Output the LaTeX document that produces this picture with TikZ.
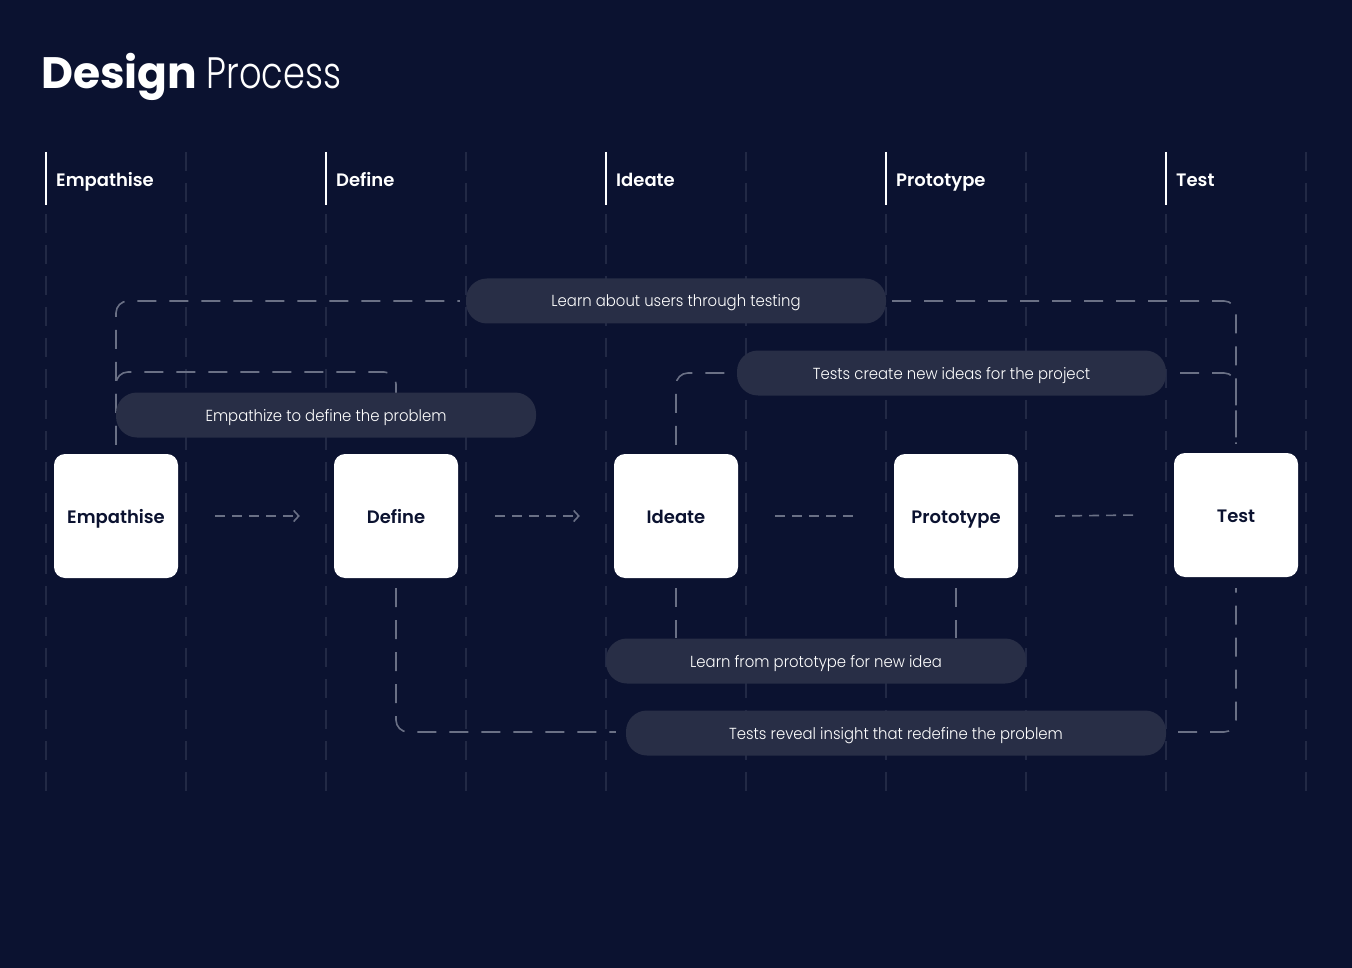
\documentclass[tikz,border=0pt]{standalone}
\usepackage{fontspec}
\setmainfont{Poppins}[BoldFont={Poppins SemiBold}]
\newfontfamily\lightfont{Poppins Light}
\newfontfamily\boldfont{Poppins Bold}
\usetikzlibrary{calc,arrows.meta}
\definecolor{bg}{HTML}{0B1230}
\definecolor{pill}{HTML}{282E46}
\definecolor{flowc}{HTML}{6A7085}
\definecolor{gridc}{HTML}{222945}
\definecolor{navy}{HTML}{0B1230}
\newcommand{\pilltext}[1]{\scalebox{0.93}[1]{#1}}
\tikzset{
  x=1pt,y=-1pt,
  stage/.style={fill=white,rounded corners=11pt,minimum width=124pt,minimum height=124pt,inner sep=0pt,text height=15pt,text depth=1pt,text=navy,font=\fontsize{18}{20}\selectfont\bfseries},
  pillbox/.style={fill=pill,rounded corners=21pt,minimum height=45pt,inner sep=0pt,text height=14pt,text depth=2pt,text=white,font=\lightfont\fontsize{16}{20}\selectfont},
  flow/.style={draw=flowc,line width=1.6pt,dash pattern=on 19pt off 13pt,rounded corners=12pt},
  flowarrow/.style={draw=flowc,line width=1.6pt,dash pattern=on 10pt off 7pt},
  gridline/.style={draw=gridc,line width=1.5pt,dash pattern=on 19pt off 12pt},
  headbar/.style={draw=white,line width=2.5pt},
  headlabel/.style={anchor=base west,text=white,inner sep=0pt,font=\fontsize{18}{20}\selectfont\bfseries},
}
\begin{document}
\begin{tikzpicture}
\fill[bg] (0,0) rectangle (1352,968);
\useasboundingbox (0,0) rectangle (1352,968);
% title
\node[anchor=base west,inner sep=0pt,text=white] (title) at (41,89) {\boldfont\fontsize{44}{50}\selectfont Design\ \lightfont\scalebox{0.8}[1]{Process}};
% grid
\foreach \i in {0,...,9} {
  \draw[gridline] (46+140*\i,152) -- (46+140*\i,796);
}
% headers
\foreach \x/\t/\n in {46/Empathise/h1,326/Define/h2,606/Ideate/h3,886/Prototype/h4,1166/Test/h5} {
  \draw[headbar] (\x,152) -- (\x,205);
  \node[headlabel] (\n) at (\x+10,187) {\t};
}
% stages
\node[stage] (emp) at (116,516) {Empathise};
\node[stage] (def) at (396,516) {Define};
\node[stage] (ide) at (676,516) {Ideate};
\node[stage] (pro) at (956,516) {Prototype};
\node[stage] (tst) at (1236,515) {Test};
% pills (positions)
\node[pillbox,minimum width=420pt] (p1) at (676,301) {\pilltext{Learn about users through testing}};
\coordinate (c2) at (256,372);
% loops
\draw[flow] ($(emp.north)+(0,-9)$) |- ($(p1.west)+(-6,0)$);
\draw[flow] ($(p1.east)+(6,0)$) -| ($(tst.north)+(0,-9)$);
\draw[flow] ($(emp.north)+(0,-9)$) |- (c2) -| ($(def.north)+(0,-9)$);
\node[pillbox,minimum width=420pt] (p2) at (326,415) {\pilltext{Empathize to define the problem}};
\node[pillbox,minimum width=429pt] (p3) at (951.5,373) {\pilltext{Tests create new ideas for the project}};
\draw[flow] ($(ide.north)+(0,-9)$) |- ($(p3.west)+(-6,0)$);
\draw[flow] ($(p3.east)+(14,0)$) -| ($(tst.north)+(0,-9)$);
\node[pillbox,minimum width=420pt] (p4) at (816,661) {\pilltext{Learn from prototype for new idea}};
\draw[flow] ($(ide.south)+(0,10)$) -- (ide.south |- p4.north);
\draw[flow] ($(pro.south)+(0,10)$) -- (pro.south |- p4.north);
\node[pillbox,minimum width=540pt] (p5) at (896,733) {\pilltext{Tests reveal insight that redefine the problem}};
\draw[flow] ($(def.south)+(0,10)$) |- ($(p5.west)+(-10,-1)$);
\draw[flow] ($(p5.east)+(12,-1)$) -| ($(tst.south)+(0,11)$);
% arrows
\draw[flowarrow,-{Straight Barb[length=5pt,width=11pt,line width=1.6pt]}] ($(emp.east)+(37,0)$) -- ($(def.west)+(-34,0)$);
\draw[flowarrow,-{Straight Barb[length=5pt,width=11pt,line width=1.6pt]}] ($(def.east)+(37,0)$) -- ($(ide.west)+(-34,0)$);
\draw[flowarrow] ($(ide.east)+(37,0)$) -- ($(pro.west)+(-36,0)$);
\draw[flowarrow] ($(pro.east)+(37,0)$) -- ($(tst.west)+(-36,0)$);
\end{tikzpicture}
\end{document}
